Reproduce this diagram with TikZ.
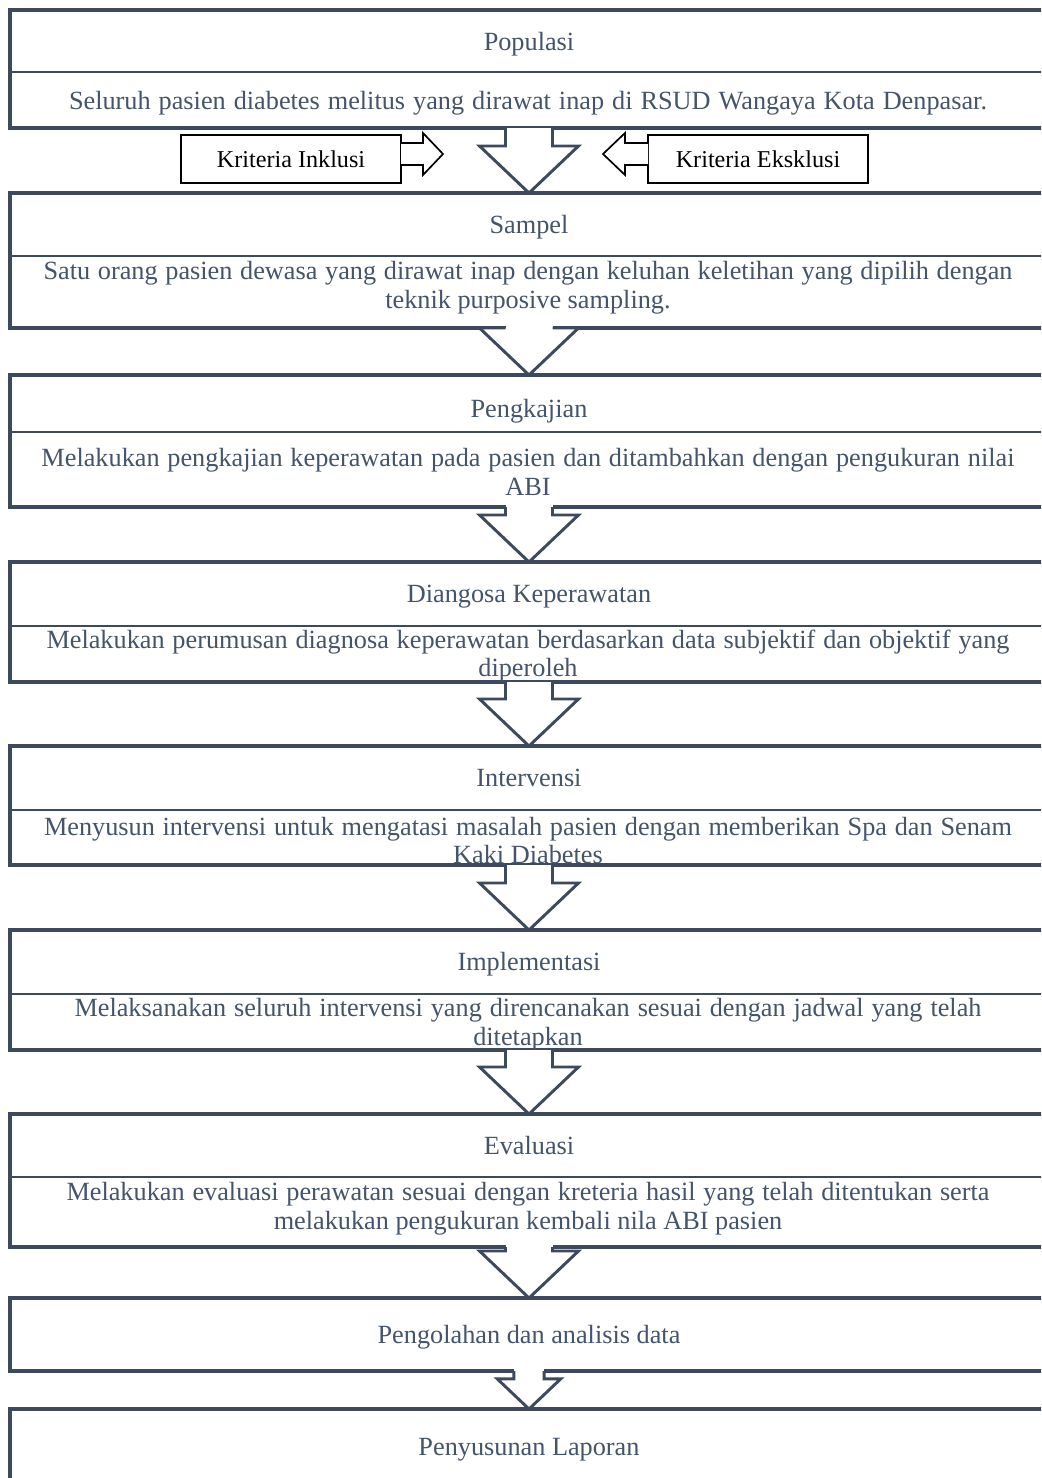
\documentclass[tikz,border=0pt]{standalone}
\usepackage{fontspec}
\setmainfont{Liberation Serif}
\usetikzlibrary{calc}

\definecolor{slate}{HTML}{44546A}
\definecolor{edge}{HTML}{3D4A5D}
\newlength\pxu
\setlength\pxu{0.01672cm}
\newcommand\spreadline[2]{\makebox[#1\pxu][s]{#2}}

\begin{document}
\begin{tikzpicture}[
  x=1\pxu, y=-1\pxu,
  font=\fontsize{12.5}{13.75}\selectfont,
  stage/.style={draw=edge, line width=1.6pt, fill=white, inner sep=0pt, outer sep=0pt, minimum width=1038\pxu},
  divline/.style={draw=edge, line width=1.1pt},
  title/.style={text=slate, anchor=mid},
  desc/.style={text=slate, align=center, inner sep=0pt},
  crit/.style={draw=black, line width=1pt, fill=white, minimum width=220\pxu, minimum height=48\pxu, inner sep=0pt, outer sep=0pt, font=\fontsize{11.5}{13}\selectfont},
  bigarrow/.style={draw=edge, line width=1.4pt, line join=miter, fill=white},
  sidearrow/.style={draw=black, line width=0.8pt, line join=miter, fill=white}
]
\useasboundingbox (0,0) rectangle (1041,1478);
\clip (0,0) rectangle (1041,1478);

% stage boxes (open to the right edge)
\node[stage, minimum height=118\pxu] (pop) at (529,69) {};
\node[stage, minimum height=135\pxu] (smp) at (529,260.5) {};
\node[stage, minimum height=132\pxu] (kaj) at (529,441) {};
\node[stage, minimum height=120\pxu] (dx) at (529,622) {};
\node[stage, minimum height=119\pxu] (itv) at (529,805.5) {};
\node[stage, minimum height=120\pxu] (imp) at (529,990) {};
\node[stage, minimum height=133\pxu] (evl) at (529,1180.5) {};
\node[stage, minimum height=73\pxu] (olah) at (529,1334.5) {};
\node[stage, minimum height=91\pxu] (lap) at (529,1454.5) {};

\draw[divline] (pop.west |- 0,72) -- (pop.east |- 0,72);
\draw[divline] (smp.west |- 0,256) -- (smp.east |- 0,256);
\draw[divline] (kaj.west |- 0,432) -- (kaj.east |- 0,432);
\draw[divline] (dx.west |- 0,626) -- (dx.east |- 0,626);
\draw[divline] (itv.west |- 0,810) -- (itv.east |- 0,810);
\draw[divline] (imp.west |- 0,994) -- (imp.east |- 0,994);
\draw[divline] (evl.west |- 0,1177) -- (evl.east |- 0,1177);

% texts
\node[title] (popT) at (529,46) {Populasi};
\node[title] (popD) at (528,105) {\spreadline{918}{Seluruh pasien diabetes melitus yang dirawat inap di RSUD Wangaya Kota Denpasar.}};
\node[title] (smpT) at (529,229) {Sampel};
\node[desc] (smpD) at (528,287.5) {\spreadline{969}{Satu orang pasien dewasa yang dirawat inap dengan keluhan keletihan yang dipilih dengan}\\teknik purposive sampling.};
\node[title] (kajT) at (529,413) {Pengkajian};
\node[desc] (kajD) at (528,471.5) {\spreadline{973}{Melakukan pengkajian keperawatan pada pasien dan ditambahkan dengan pengukuran nilai}\\ABI};
\node[title] (dxT) at (529,598) {Diangosa Keperawatan};
\node[desc] (dxD) at (528,656) {\spreadline{963}{Melakukan perumusan diagnosa keperawatan berdasarkan data subjektif dan objektif yang}\\diperoleh};
\node[title] (itvT) at (529,782) {Intervensi};
\node[desc] (itvD) at (528,840.5) {\spreadline{968}{Menyusun intervensi untuk mengatasi masalah pasien dengan memberikan Spa dan Senam}\\Kaki Diabetes};
\node[title] (impT) at (529,966) {Implementasi};
\node[desc] (impD) at (528,1025) {\spreadline{907}{Melaksanakan seluruh intervensi yang direncanakan sesuai dengan jadwal yang telah}\\ditetapkan};
\node[title] (evlT) at (529,1150) {Evaluasi};
\node[desc] (evlD) at (528,1209) {\spreadline{923}{Melakukan evaluasi perawatan sesuai dengan kreteria hasil yang telah ditentukan serta}\\melakukan pengukuran kembali nila ABI pasien};
\node[title] (olahT) at (529,1339) {Pengolahan dan analisis data};
\node[title] (lapT) at (529,1451) {Penyusunan Laporan};

% block arrows between stages
\foreach \a/\b/\s in {pop/smp/1, smp/kaj/1, kaj/dx/1, dx/itv/1, itv/imp/1, imp/evl/1, evl/olah/1, olah/lap/0.64}{
  \coordinate (tip) at (\b.north);
  \coordinate (sl) at ($(tip)+(-23.5*\s,-47*\s)$);
  \coordinate (sr) at ($(tip)+(23.5*\s,-47*\s)$);
  \fill[white] ($(tip)+(-23.5*\s,-63*\s)$) rectangle (sr);
  \draw[bigarrow] (sl |- \a.south) -- (sl) -- ++(-26*\s,0) -- (tip)
    -- ($(sr)+(26*\s,0)$) -- (sr) -- (sr |- \a.south);
}

% inclusion / exclusion
\node[crit] (inkl) at (291,159) {Kriteria Inklusi};
\node[crit] (eksk) at (758,159) {Kriteria Eksklusi};
\draw[sidearrow] ($(inkl.east)+(0,-16)$) -- ++(22,0) -- ++(0,-10) -- ++(20,21)
  -- ++(-20,21) -- ++(0,-10) -- ++(-22,0);
\draw[sidearrow] ($(eksk.west)+(0,-16)$) -- ++(-23,0) -- ++(0,-10) -- ++(-22,21)
  -- ++(22,21) -- ++(0,-10) -- ++(23,0);

\end{tikzpicture}
\end{document}
